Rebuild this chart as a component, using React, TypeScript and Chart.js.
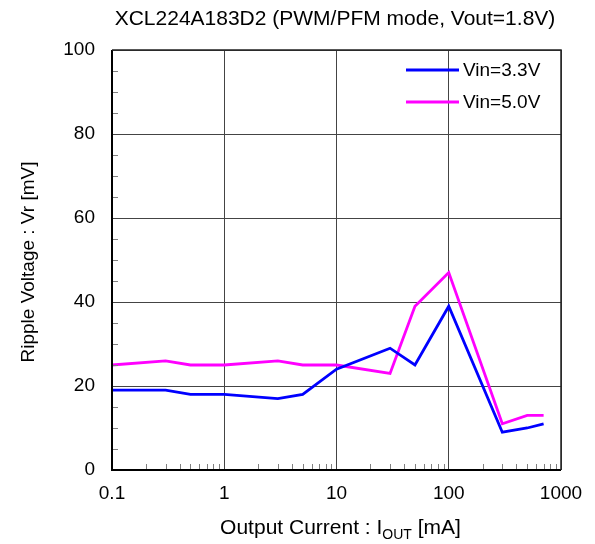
import React, { useEffect, useRef } from "react";
import { Chart, registerables } from "chart.js";

Chart.register(...registerables);

const currents = [0.1, 0.3, 0.5, 1, 3, 5, 10, 30, 50, 100, 300, 500, 700];
const vin33 = [19, 19, 18, 18, 17, 18, 24, 29, 25, 39, 9, 10, 11];
const vin50 = [25, 26, 25, 25, 26, 25, 25, 23, 39, 47, 11, 13, 13];
const seriesLabels = ["Vin=3.3V", "Vin=5.0V"];
const seriesColors = ["#0000FF", "#FF00FF"];
const xTicks = [0.1, 1, 10, 100, 1000];
const xTickLabels = ["0.1", "1", "10", "100", "1000"];
const titleText = "XCL224A183D2 (PWM/PFM mode, Vout=1.8V)";
const yTitle = "Ripple Voltage : Vr [mV]";

const FONT = "'Liberation Sans', Arial, sans-serif";

const decorPlugin = {
  id: "decor",
  afterDraw(chart: any) {
    const ctx = chart.ctx;
    const ca = chart.chartArea;
    const xs = chart.scales.x;
    const ys = chart.scales.y;
    ctx.save();
    // minor ticks x
    ctx.strokeStyle = "#808080";
    ctx.lineWidth = 1;
    for (let d = 0.1; d < 1000; d *= 10) {
      for (let m = 2; m <= 9; m++) {
        const px = Math.round(xs.getPixelForValue(d * m)) + 0.5;
        ctx.beginPath();
        ctx.moveTo(px, ca.bottom);
        ctx.lineTo(px, ca.bottom - 6);
        ctx.stroke();
      }
    }
    // minor ticks y
    for (let v = 5; v < 100; v += 5) {
      if (v % 20 === 0) continue;
      const py = Math.round(ys.getPixelForValue(v)) + 0.5;
      ctx.beginPath();
      ctx.moveTo(ca.left, py);
      ctx.lineTo(ca.left + 6, py);
      ctx.stroke();
    }
    // border
    ctx.strokeStyle = "#000";
    ctx.lineWidth = 2;
    ctx.beginPath();
    ctx.moveTo(ca.left, ca.top);
    ctx.lineTo(ca.left, ca.bottom);
    ctx.lineTo(ca.right, ca.bottom);
    ctx.stroke();
    ctx.lineWidth = 1.5;
    ctx.strokeStyle = "#222";
    ctx.beginPath();
    ctx.moveTo(ca.left, ca.top);
    ctx.lineTo(ca.right, ca.top);
    ctx.lineTo(ca.right, ca.bottom);
    ctx.stroke();

    // title
    ctx.fillStyle = "#000";
    ctx.font = `21px ${FONT}`;
    ctx.textAlign = "center";
    ctx.textBaseline = "middle";
    ctx.fillText(titleText, 335, 19);

    // y title
    ctx.save();
    ctx.font = `19px ${FONT}`;
    ctx.translate(29, 262);
    ctx.rotate(-Math.PI / 2);
    ctx.fillText(yTitle, 0, 0);
    ctx.restore();

    // x title with subscript
    const part1 = "Output Current : I";
    const sub = "OUT";
    const part2 = " [mA]";
    ctx.font = `21px ${FONT}`;
    const w1 = ctx.measureText(part1).width;
    const w3 = ctx.measureText(part2).width;
    ctx.font = `14px ${FONT}`;
    const w2 = ctx.measureText(sub).width;
    const total = w1 + w2 + w3;
    const x0 = 340.5 - total / 2;
    const yb = 528;
    ctx.textAlign = "left";
    ctx.font = `21px ${FONT}`;
    ctx.fillText(part1, x0, yb);
    ctx.font = `14px ${FONT}`;
    ctx.fillText(sub, x0 + w1, yb + 7);
    ctx.font = `21px ${FONT}`;
    ctx.fillText(part2, x0 + w1 + w2, yb);

    // legend
    const lx = 406;
    chart.data.datasets.forEach((ds: any, i: number) => {
      const ly = 70 + i * 32;
      ctx.strokeStyle = ds.borderColor;
      ctx.lineWidth = 2.8;
      ctx.beginPath();
      ctx.moveTo(lx, ly);
      ctx.lineTo(lx + 53, ly);
      ctx.stroke();
      ctx.fillStyle = "#000";
      ctx.font = `19px ${FONT}`;
      ctx.textAlign = "left";
      ctx.fillText(ds.label, lx + 57, ly + 1);
    });
    ctx.restore();
  },
};

export default function App() {
  const ref = useRef<HTMLCanvasElement>(null);
  useEffect(() => {
    if (!ref.current) return;
    const chart = new Chart(ref.current, {
      type: "line",
      data: {
        datasets: [vin33, vin50].map((vals, i) => ({
          label: seriesLabels[i],
          data: currents.map((c, j) => ({ x: c, y: vals[j] })),
          borderColor: seriesColors[i],
          backgroundColor: seriesColors[i],
          borderWidth: 2.8,
          pointRadius: 0,
          tension: 0,
        })),
      },
      options: {
        responsive: false,
        animation: false,
        layout: { padding: { left: 0, top: 50, right: 34, bottom: 0 } },
        plugins: {
          legend: { display: false },
          title: { display: false },
          tooltip: { enabled: false },
        },
        scales: {
          x: {
            type: "logarithmic",
            min: 0.1,
            max: 1000,
            afterBuildTicks: (scale: any) => {
              scale.ticks = xTicks.map((v) => ({ value: v }));
            },
            afterFit: (scale: any) => {
              scale.height = 74;
            },
            ticks: {
              autoSkip: false,
              maxRotation: 0,
              padding: 12,
              color: "#000",
              font: { size: 19, family: FONT },
              callback: (v: any) => {
                const idx = xTicks.indexOf(Number(v));
                return idx >= 0 ? xTickLabels[idx] : "";
              },
            },
            grid: { color: "#444", lineWidth: 1, drawTicks: false },
            border: { display: false },
          },
          y: {
            type: "linear",
            min: 0,
            max: 100,
            afterFit: (scale: any) => {
              scale.width = 112;
            },
            ticks: {
              stepSize: 20,
              padding: 17,
              color: "#000",
              font: { size: 19, family: FONT },
            },
            grid: { color: "#444", lineWidth: 1, drawTicks: false },
            border: { display: false },
          },
        },
      },
      plugins: [decorPlugin],
    } as any);
    return () => chart.destroy();
  }, []);
  return (
    <div style={{ position: "fixed", left: 0, top: 0, width: 595, height: 544, background: "#fff" }}>
      <canvas ref={ref} width={595} height={544} style={{ display: "block" }} />
    </div>
  );
}
